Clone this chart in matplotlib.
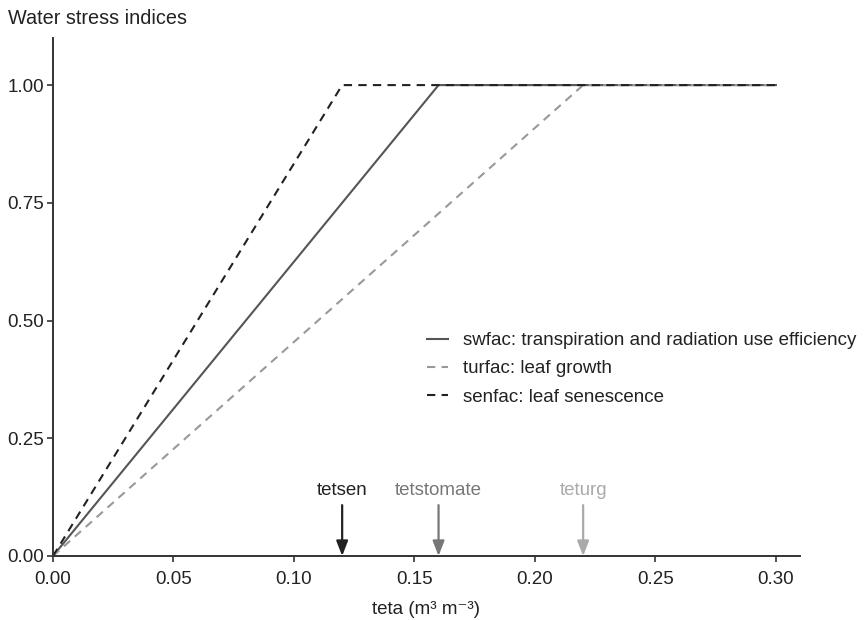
import matplotlib
matplotlib.use("Agg")
import matplotlib.pyplot as plt

plt.rcParams['font.family'] = ['Liberation Sans', 'DejaVu Sans']

# Data
teta_sw = [0.0, 0.16, 0.30]
swfac = [0.0, 1.0, 1.0]
teta_tur = [0.0, 0.22, 0.30]
turfac = [0.0, 1.0, 1.0]
teta_sen = [0.0, 0.12, 0.30]
senfac = [0.0, 1.0, 1.0]

thresh_names = ["tetsen", "tetstomate", "teturg"]
thresh_vals = [0.12, 0.16, 0.22]
thresh_colors = ["#222222", "#777777", "#aaaaaa"]

xticks = [0.00, 0.05, 0.10, 0.15, 0.20, 0.25, 0.30]
yticks = [0.00, 0.25, 0.50, 0.75, 1.00]

fig = plt.figure(figsize=(8.65, 6.2), dpi=100)
ax = fig.add_axes([53/865, 64/620, 747/865, 518/620])

ax.plot(teta_sw, swfac, color="#555555", lw=1.5, ls="-",
        label="swfac: transpiration and radiation use efficiency")
ax.plot(teta_tur, turfac, color="#999999", lw=1.5, ls=(0, (4, 3)),
        label="turfac: leaf growth")
ax.plot(teta_sen, senfac, color="#222222", lw=1.5, ls=(0, (4, 3)),
        label="senfac: leaf senescence")

for name, v, c in zip(thresh_names, thresh_vals, thresh_colors):
    ax.annotate("", xy=(v, 0.0), xytext=(v, 0.108),
                arrowprops=dict(arrowstyle="-|>,head_length=0.9,head_width=0.35",
                                color=c, lw=1.6, shrinkA=0, shrinkB=0))
    ax.text(v, 0.122, name, color=c, ha="center", va="bottom", fontsize=13.5)

ax.set_xlim(0, 0.31)
ax.set_ylim(0, 1.1)
ax.set_xticks(xticks)
ax.set_yticks(yticks)
ax.set_xticklabels([f"{t:.2f}" for t in xticks])
ax.set_yticklabels([f"{t:.2f}" for t in yticks])
ax.tick_params(direction="out", length=4, width=1.2, color="#333333",
               labelsize=13.5, labelcolor="#222222")
ax.tick_params(axis="x", pad=7)
ax.tick_params(axis="y", pad=2.5)
for s in ["top", "right"]:
    ax.spines[s].set_visible(False)
for s in ["left", "bottom"]:
    ax.spines[s].set_color("#333333")
    ax.spines[s].set_linewidth(1.4)

ax.set_xlabel("teta (m³ m⁻³)", fontsize=13.5, color="#222222", labelpad=9)
fig.text(8/865, 1 - 18/620, "Water stress indices", fontsize=14.3, color="#222222",
         ha="left", va="center")

leg = ax.legend(loc="upper left", bbox_to_anchor=(0.491, 0.447), frameon=False,
                fontsize=13.5, handlelength=1.1, handletextpad=0.8,
                labelspacing=0.6, labelcolor="#222222", borderaxespad=0)

fig.savefig("out.png", dpi=100)
